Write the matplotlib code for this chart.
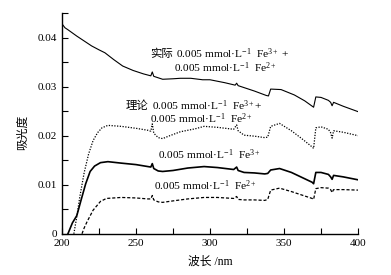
import matplotlib
matplotlib.use("Agg")
import matplotlib.pyplot as plt
from matplotlib.ticker import MultipleLocator, FuncFormatter
from matplotlib.transforms import offset_copy

plt.rcParams['font.family'] = ['Liberation Serif', 'Noto Sans CJK SC']
plt.rcParams['mathtext.fontset'] = 'custom'
plt.rcParams['mathtext.rm'] = 'Liberation Serif'
plt.rcParams['mathtext.it'] = 'Liberation Serif'

# actual (measured) mixture
wl_actual = [200, 202, 204, 210, 215, 220, 225, 229, 235, 241, 248, 255, 260, 261, 262, 268, 275, 280,
             287, 295, 300, 310, 317, 318, 319, 325, 330, 338, 339.5, 341, 348, 357, 364, 370, 371.5,
             375, 380, 381.5, 382.5, 383.5, 390, 400]
abs_actual = [0.0428, 0.0420, 0.0416, 0.0403, 0.0393, 0.0383, 0.0375, 0.0369, 0.0355, 0.0342, 0.0333,
              0.0326, 0.0322, 0.0330, 0.0321, 0.0315, 0.0316, 0.0317, 0.0317, 0.0314, 0.0314, 0.0308,
              0.0303, 0.0307, 0.0302, 0.0296, 0.0291, 0.0282, 0.0281, 0.0295, 0.0294, 0.0283, 0.0271,
              0.0258, 0.0279, 0.0278, 0.0272, 0.0268, 0.0261, 0.0268, 0.0260, 0.0249]

# theoretical mixture
wl_theory = [208, 210, 212, 215, 218, 221, 224, 227, 231, 240, 250, 258, 260, 261, 262, 265, 268, 272,
             280, 290, 296, 305, 316, 318, 319, 323, 330, 337, 339, 341, 347, 355, 362, 369, 370, 371.5,
             375, 380, 381.5, 382.5, 383.5, 390, 400]
abs_theory = [0.0, 0.0035, 0.0075, 0.0125, 0.0163, 0.0190, 0.0206, 0.0216, 0.0221, 0.0219, 0.0215,
              0.0211, 0.0209, 0.0224, 0.0205, 0.0196, 0.0194, 0.0199, 0.0208, 0.0214, 0.0219, 0.0217,
              0.0213, 0.0222, 0.0210, 0.0201, 0.0199, 0.0196, 0.0197, 0.0219, 0.0225, 0.0210, 0.0194,
              0.0177, 0.0174, 0.0216, 0.0218, 0.0213, 0.0206, 0.0195, 0.0210, 0.0207, 0.0200]

# Fe3+
wl_fe3 = [204, 207, 210, 213, 216, 219, 222, 226, 231, 240, 250, 258, 260, 261, 262, 265, 268, 275, 285,
          296, 305, 316, 318, 319, 323, 330, 337, 339, 341, 347, 355, 362, 369, 370, 371.5, 375, 380,
          381.5, 382.5, 383.5, 390, 400]
abs_fe3 = [0.0, 0.0022, 0.0037, 0.0070, 0.0102, 0.0127, 0.0138, 0.0145, 0.0147, 0.0144, 0.0141, 0.0137,
           0.0136, 0.0143, 0.0133, 0.0128, 0.0127, 0.0129, 0.0134, 0.0137, 0.0135, 0.0131, 0.0136,
           0.0129, 0.0125, 0.0124, 0.0122, 0.0123, 0.0130, 0.0133, 0.0125, 0.0115, 0.0105, 0.0102,
           0.0125, 0.0125, 0.0121, 0.0116, 0.0111, 0.0119, 0.0116, 0.0110]

# Fe2+
wl_fe2 = [213.5, 215, 217, 221, 226, 230, 240, 250, 258, 260, 261, 262, 265, 268, 275, 285, 296, 305,
          316, 318, 319, 323, 330, 337, 339, 341, 347, 355, 362, 369, 370, 371.5, 375, 380, 381.5,
          382.5, 383.5, 390, 400]
abs_fe2 = [0.0, 0.0012, 0.0025, 0.0048, 0.0066, 0.0072, 0.0074, 0.0073, 0.0071, 0.0071, 0.0078, 0.0069,
           0.0065, 0.0064, 0.0067, 0.0071, 0.0074, 0.0074, 0.0072, 0.0076, 0.0070, 0.0069, 0.0069,
           0.0068, 0.0070, 0.0089, 0.0093, 0.0086, 0.0079, 0.0072, 0.0070, 0.0092, 0.0094, 0.0093,
           0.0090, 0.0084, 0.0090, 0.0090, 0.0089]

pre_actual = '实际'
pre_theory = '理论'
lbl_mix1 = '0.005 mmol·L$^{-1}$  Fe$^{3+}$ +'
lbl_mix1b = '0.005 mmol·L$^{-1}$  Fe$^{3+}$+'
lbl_fe3 = '0.005 mmol·L$^{-1}$  Fe$^{3+}$'
lbl_fe2 = '0.005 mmol·L$^{-1}$  Fe$^{2+}$'

fig = plt.figure(figsize=(3.91, 2.75), dpi=100)
ax = fig.add_axes([0.1586, 0.150, 0.757, 0.8025])

ax.plot(wl_actual, abs_actual, color='black', lw=0.8, ls='-')
ax.plot(wl_theory, abs_theory, color='black', lw=0.9, ls=(0, (1, 1.2)))
ax.plot(wl_fe3, abs_fe3, color='black', lw=1.2, ls='-')
ax.plot(wl_fe2, abs_fe2, color='black', lw=0.9, ls=(0, (2.5, 1.5)))

ax.set_xlim(200, 400)
ax.set_ylim(0, 0.045)
ax.xaxis.set_major_locator(MultipleLocator(50))
ax.xaxis.set_minor_locator(MultipleLocator(25))
ax.yaxis.set_major_locator(MultipleLocator(0.01))
ax.yaxis.set_minor_locator(MultipleLocator(0.005))
ax.yaxis.set_major_formatter(FuncFormatter(lambda v, p: '0' if abs(v) < 1e-9 else f'{v:.2f}'))
for s in ['top', 'right']:
    ax.spines[s].set_visible(False)
for s in ['left', 'bottom']:
    ax.spines[s].set_linewidth(1.0)
ax.tick_params(which='both', direction='in', labelsize=8, width=0.8)
ax.tick_params(which='major', length=4)
ax.tick_params(which='minor', length=4)
ax.tick_params(axis='x', pad=4)

fs = 8.2
left_shift = offset_copy(ax.transData, fig=fig, x=-2, y=0, units='points')

# actual label
ax.text(277.0, 0.0367, lbl_mix1, fontsize=fs, va='center', ha='left')
ax.text(277.0, 0.0367, pre_actual, fontsize=fs, va='center', ha='right', transform=left_shift)
ax.text(275.5, 0.0338, lbl_fe2, fontsize=fs, va='center', ha='left')
# theoretical label
ax.text(260.5, 0.0262, lbl_mix1b, fontsize=fs, va='center', ha='left')
ax.text(260.5, 0.0262, pre_theory, fontsize=fs, va='center', ha='right', transform=left_shift)
ax.text(259.5, 0.0234, lbl_fe2, fontsize=fs, va='center', ha='left')
# single component labels
ax.text(264.6, 0.0162, lbl_fe3, fontsize=fs, va='center', ha='left')
ax.text(261.9, 0.0098, lbl_fe2, fontsize=fs, va='center', ha='left')

fig.text(0.058, 0.52, '吸光度', rotation=90, fontsize=8.5, ha='center', va='center')
fig.text(0.537, 0.047, '波长 /nm', fontsize=8.5, ha='center', va='center')

fig.savefig('out.png', dpi=100)
